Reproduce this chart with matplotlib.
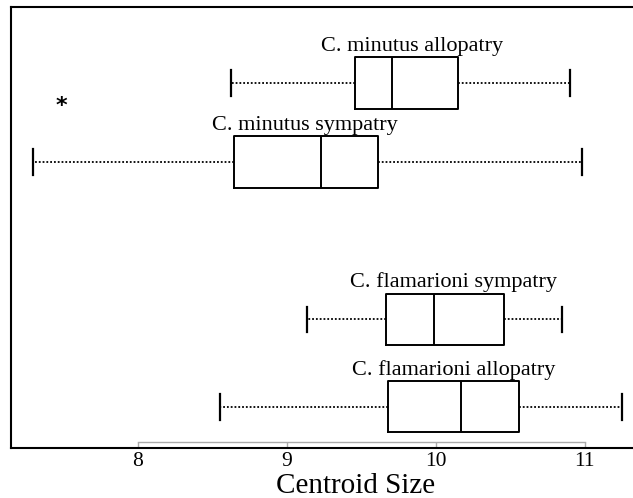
import matplotlib
matplotlib.use("Agg")
import matplotlib.pyplot as plt
import matplotlib.transforms as mtransforms

plt.rcParams['font.family'] = ['Liberation Serif', 'DejaVu Serif']

# groups, bottom to top
groups = ["C. flamarioni allopatry", "C. flamarioni sympatry",
          "C. minutus sympatry", "C. minutus allopatry"]
whis_lo = [8.55, 9.14, 7.30, 8.63]
q1 = [9.68, 9.67, 8.65, 9.46]
med = [10.17, 9.99, 9.23, 9.71]
q3 = [10.56, 10.46, 9.61, 10.15]
whis_hi = [11.25, 10.85, 10.98, 10.90]
positions = [0.52, 1.63, 3.62, 4.62]
label_x = [10.12, 10.12, 9.12, 9.84]
xticks = [8, 9, 10, 11]

stats = []
for i in range(len(groups)):
    stats.append(dict(whislo=whis_lo[i], q1=q1[i], med=med[i], q3=q3[i],
                      whishi=whis_hi[i], fliers=[], label=groups[i]))

fig = plt.figure(figsize=(6.33, 4.98), dpi=100)
ax = fig.add_axes([11/633, 50/498, 690/633, 441/498])

ax.bxp(stats, positions=positions, orientation='horizontal', widths=0.646,
       capwidths=0.32, showfliers=False, manage_ticks=False,
       boxprops=dict(color='black', linewidth=1.4),
       medianprops=dict(color='black', linewidth=1.4),
       whiskerprops=dict(color='black', linewidth=1.3, linestyle=(0, (1, 1.1))),
       capprops=dict(color='black', linewidth=1.6))

for i in range(len(groups)):
    ax.text(label_x[i], positions[i] + 0.408, groups[i], fontsize=16,
            ha='center', va='baseline')

ax.text(7.49, 4.33, '*', fontsize=16, fontweight='bold', ha='center',
        va='center', family='DejaVu Sans')

ax.set_xlim(7.151, 11.78)
ax.set_ylim(0, 5.582)
ax.set_yticks([])

# R-style grey axis line just above the frame
trans = mtransforms.blended_transform_factory(ax.transData, ax.transAxes)
ax.plot([xticks[0], xticks[-1]], [0.0125, 0.0125], color='#aaaaaa',
        linewidth=1.0, transform=trans, clip_on=False)
ax.set_xticks(xticks)
ax.set_xticklabels([str(t) for t in xticks], fontsize=15.5)
ax.tick_params(axis='x', direction='in', length=4, color='#aaaaaa', width=1.0, pad=3)
ax.set_xlabel("Centroid Size", fontsize=21, labelpad=1)

for s in ax.spines.values():
    s.set_linewidth(1.5)
    s.set_color('black')

fig.savefig("out.png", dpi=100)
